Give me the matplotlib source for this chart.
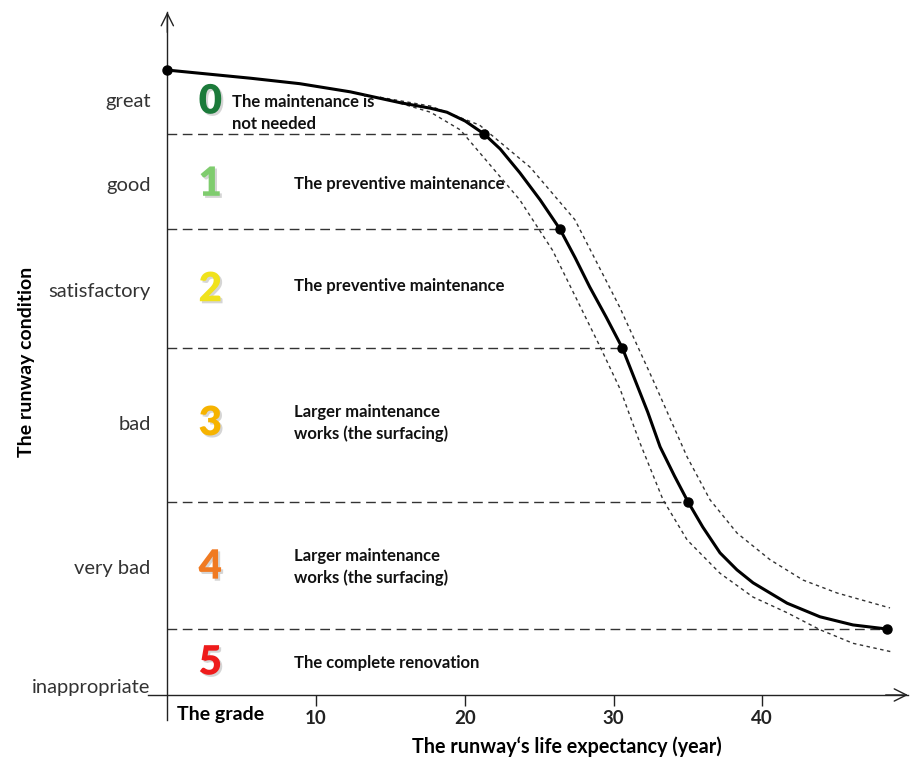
import matplotlib
matplotlib.use("Agg")
import matplotlib.pyplot as plt
import matplotlib.patheffects as pe

plt.rcParams['font.family'] = ['Lato', 'DejaVu Sans']

# ---- data (x: years, y: condition index 0..100) ----
main_x = [0.0, 5.6, 8.9, 12.3, 15.66, 17.67, 18.8, 20.03, 21.3, 22.38, 23.7, 25.07, 26.4, 27.42,
          28.4, 29.5, 30.6, 31.45, 32.3, 33.13, 34.1, 35.01, 36.0, 37.16, 38.3, 39.38, 41.67,
          43.88, 46.1, 48.39]
main_y = [91.9, 90.7, 89.9, 88.7, 87.1, 86.3, 85.7, 84.4, 82.5, 80.3, 76.8, 72.8, 68.5, 64.3,
          60.0, 55.6, 51.0, 46.3, 41.6, 36.5, 32.2, 28.4, 24.7, 20.9, 18.4, 16.5, 13.5,
          11.5, 10.3, 9.7]

upper_x = [14.3, 17.7, 21.0, 24.4, 27.4, 30.4, 32.66, 34.95, 36.49, 38.31, 40.52, 42.74, 45.03, 48.59]
upper_y = [87.9, 86.6, 83.8, 77.6, 69.9, 57.1, 46.3, 35.0, 28.7, 23.8, 19.9, 16.9, 15.0, 12.8]

lower_x = [14.3, 17.7, 19.7, 23.7, 25.9, 29.1, 30.44, 31.79, 33.33, 34.95, 37.16, 39.38, 41.67,
           43.88, 46.1, 48.79]
lower_y = [87.9, 85.7, 83.1, 72.8, 65.4, 51.2, 45.0, 37.0, 28.7, 22.8, 17.9, 14.4, 12.1,
           9.6, 7.6, 6.3]

dot_x = [0.0, 21.3, 26.4, 30.6, 35.01, 48.39]
dot_y = [91.9, 82.5, 68.5, 51.0, 28.4, 9.7]

bound_y = [82.5, 68.5, 51.0, 28.4, 9.7]
bound_x_end = [21.3, 26.4, 30.6, 35.01, 48.39]

cond_labels = ['great', 'good', 'satisfactory', 'bad', 'very bad', 'inappropriate']
cond_y = [87.5, 75.1, 59.6, 40.0, 18.8, 1.3]

grades = ['0', '1', '2', '3', '4', '5']
grade_colors = ['#1b7a3a', '#7fcc6e', '#f0e21c', '#f6b300', '#f07a22', '#ee1b1b']
grade_y = [87.2, 75.1, 59.6, 39.9, 18.8, 4.7]

desc_texts = ['The maintenance is\nnot needed', 'The preventive maintenance', 'The preventive maintenance',
              'Larger maintenance\nworks (the surfacing)', 'Larger maintenance\nworks (the surfacing)',
              'The complete renovation']
desc_x = [4.37, 8.53, 8.53, 8.53, 8.53, 8.53]
desc_y = [85.6, 75.1, 60.1, 40.0, 18.8, 4.7]

x_ticks = [10, 20, 30, 40]

# ---- figure ----
fig = plt.figure(figsize=(9.1, 7.6), dpi=100)
ax = fig.add_axes([148/910, 40/760, 760/910, 708/760])
xmin, xmax = -1.3, 49.8
ymin, ymax = -3.68, 100.44
ax.set_xlim(xmin, xmax)
ax.set_ylim(ymin, ymax)

for s in ['top', 'right']:
    ax.spines[s].set_visible(False)
ax.spines['bottom'].set_position(('data', 0))
ax.spines['left'].set_position(('data', 0))
for s in ['bottom', 'left']:
    ax.spines[s].set_linewidth(1.0)
    ax.spines[s].set_color('#222222')

# arrow heads
ax.annotate('', xy=(xmax, 0), xytext=(xmax - 1.5, 0),
            arrowprops=dict(arrowstyle='->', lw=1.0, color='#222222', mutation_scale=22,
                            shrinkA=0, shrinkB=0), annotation_clip=False)
ax.annotate('', xy=(0, ymax), xytext=(0, ymax - 3),
            arrowprops=dict(arrowstyle='->', lw=1.0, color='#222222', mutation_scale=22,
                            shrinkA=0, shrinkB=0), annotation_clip=False)

ax.set_xticks(x_ticks)
ax.set_xticklabels([str(t) for t in x_ticks], fontsize=13.5, fontweight='bold')
ax.tick_params(axis='x', direction='out', length=8, width=1, pad=3, colors='#222222')
ax.set_yticks(cond_y)
ax.set_yticklabels(cond_labels, fontsize=14.5, color='#333333')
ax.tick_params(axis='y', length=0, pad=12)

ax.text(3.56, -1.6, 'The grade', fontsize=14, fontweight='bold', ha='center', va='top')

# boundaries
for by, bx in zip(bound_y, bound_x_end):
    ax.plot([0, bx], [by, by], color='#333333', lw=1.0, dashes=(7, 4))

# dotted envelope
ax.plot(upper_x, upper_y, color='#333333', lw=1.0, dashes=(2.5, 2.5))
ax.plot(lower_x, lower_y, color='#333333', lw=1.0, dashes=(2.5, 2.5))

# main curve
ax.plot(main_x, main_y, color='black', lw=2.2, solid_capstyle='round', solid_joinstyle='round')
ax.plot(dot_x, dot_y, 'o', color='black', ms=6.5, clip_on=False, zorder=5)

# grades and descriptions
for g, c, gy in zip(grades, grade_colors, grade_y):
    ax.text(2.89, gy, g, color=c, fontsize=29, fontweight='heavy', ha='center', va='center',
            path_effects=[pe.SimplePatchShadow(offset=(1.5, -1.5), shadow_rgbFace='#888888', alpha=0.35),
                          pe.Normal()])
for t, tx, ty in zip(desc_texts, desc_x, desc_y):
    ax.text(tx, ty, t, fontsize=12, fontweight='bold', ha='left', va='center', linespacing=1.4,
            color='#111111')

fig.text(567/910, 1 - 747/760, 'The runway\u2018s life expectancy (year)', fontsize=14.2,
         fontweight='bold', ha='center', va='center')
fig.text(27/910, 1 - 362/760, 'The runway condition', fontsize=14, fontweight='bold',
         ha='center', va='center', rotation=90)

fig.savefig('out.png', dpi=100, facecolor='white')
